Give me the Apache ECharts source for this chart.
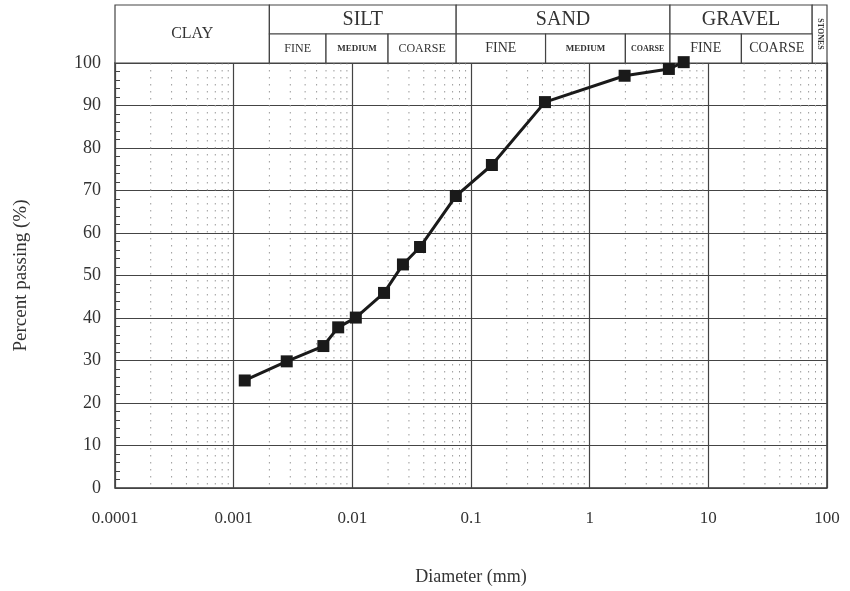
<!DOCTYPE html>
<html>
<head>
<meta charset="utf-8">
<script src="https://cdn.jsdelivr.net/npm/echarts@6/dist/echarts.min.js"></script>
<style>
  html, body { margin: 0; padding: 0; background: #fff; }
  #chart { width: 850px; height: 591px; }
</style>
</head>
<body>
<div id="chart"></div>
<script>
// grain size curve (diameter in mm, percent passing)
const diameters = [0.00124, 0.0028, 0.0057, 0.0076, 0.0107, 0.0185, 0.0267, 0.0372, 0.0745, 0.150, 0.42, 1.97, 4.65, 6.2]
const passing = [25.3, 29.8, 33.4, 37.8, 40.1, 45.9, 52.6, 56.7, 68.7, 76.0, 90.8, 97.0, 98.6, 100.2]

// soil classification header: [label, from, to]
const mainBands = [['CLAY', 0.0001, 0.002], ['SILT', 0.002, 0.075], ['SAND', 0.075, 4.75], ['GRAVEL', 4.75, 75], ['STONES', 75, 100]]
const subBands = [
  ['FINE', 0.002, 0.006], ['MEDIUM', 0.006, 0.02], ['COARSE', 0.02, 0.075],
  ['FINE', 0.075, 0.425], ['MEDIUM', 0.425, 2], ['COARSE', 2, 4.75],
  ['FINE', 4.75, 19], ['COARSE', 19, 75]
]

const xTicks = [0.0001, 0.001, 0.01, 0.1, 1, 10, 100]
const minorMultipliers = [2, 3, 4, 5, 6, 7, 8, 9]

const serif = '"Liberation Serif", "DejaVu Serif", serif'

// minor log lines: 2..9 of every decade
const minorLines = []
xTicks.slice(0, -1).forEach(d => {
  minorMultipliers.forEach(m => minorLines.push([d * m]))
})

// header cells: [from, to, rowBottom, rowTop]; clay and stones span both rows
const headerCells = []
const headerText = []
mainBands.forEach(b => {
  const full = b[0] === 'CLAY' || b[0] === 'STONES'
  headerCells.push([b[1], b[2], full ? 0 : 1, 2])
  headerText.push({ text: b[0], kind: full ? b[0].toLowerCase() : 'main' })
})
subBands.forEach(b => {
  headerCells.push([b[1], b[2], 0, 1])
  headerText.push({ text: b[0], kind: 'sub' })
})

function cellFont (info, width) {
  if (info.kind === 'main') return '20px ' + serif
  if (info.kind === 'clay') return '16px ' + serif
  if (info.kind === 'stones') return 'bold 8px ' + serif
  if (info.text === 'MEDIUM') return 'bold 9px ' + serif
  if (width < 50) return 'bold 8px ' + serif
  if (width > 70) return '14px ' + serif
  return '12px ' + serif
}

const chart = echarts.init(document.getElementById('chart'))

const option = {
  backgroundColor: '#fff',
  animation: false,
  grid: [
    { left: 115, right: 23, top: 63, bottom: 103, show: true, borderColor: '#333', borderWidth: 1.5 },
    { left: 115, right: 23, top: 5, height: 58 }
  ],
  xAxis: [
    {
      type: 'log',
      logBase: 10,
      min: 0.0001,
      max: 100,
      splitNumber: 6,
      gridIndex: 0,
      axisLine: { show: false },
      axisTick: { show: false },
      axisLabel: {
        margin: 22,
        fontFamily: serif,
        fontSize: 17,
        color: '#333',
        formatter: v => String(parseFloat(v.toPrecision(6)))
      },
      splitLine: { show: true, lineStyle: { color: '#444', width: 1.2 } },
      name: 'Diameter (mm)',
      nameLocation: 'middle',
      nameGap: 80,
      nameTextStyle: { fontFamily: serif, fontSize: 18, color: '#333' }
    },
    {
      type: 'log', logBase: 10, min: 0.0001, max: 100, gridIndex: 1, show: false
    }
  ],
  yAxis: [
    {
      type: 'value',
      min: 0,
      max: 100,
      interval: 10,
      gridIndex: 0,
      axisLine: { show: false },
      axisTick: { show: true, inside: true, length: 6, lineStyle: { color: '#444' } },
      minorTick: { show: true, splitNumber: 5, length: 5, lineStyle: { color: '#444' } },
      axisLabel: { margin: 14, fontFamily: serif, fontSize: 18, color: '#333' },
      splitLine: { show: true, lineStyle: { color: '#444', width: 1.2 } },
      name: 'Percent passing (%)',
      nameLocation: 'middle',
      nameGap: 84,
      nameTextStyle: { fontFamily: serif, fontSize: 19, color: '#333' }
    },
    { type: 'value', min: 0, max: 2, gridIndex: 1, show: false }
  ],
  series: [
    {
      // dotted minor lines of the log grid
      type: 'custom',
      xAxisIndex: 0,
      yAxisIndex: 0,
      data: minorLines,
      silent: true,
      z: 1,
      renderItem (params, api) {
        const top = api.coord([api.value(0), 100])
        const bottom = api.coord([api.value(0), 0])
        return {
          type: 'line',
          shape: { x1: top[0], y1: top[1], x2: bottom[0], y2: bottom[1] },
          style: { stroke: '#9a9a9a', lineWidth: 1, lineDash: [1.5, 5.5] }
        }
      }
    },
    {
      type: 'line',
      xAxisIndex: 0,
      yAxisIndex: 0,
      data: diameters.map((d, i) => [d, passing[i]]),
      symbol: 'rect',
      symbolSize: 12,
      clip: false,
      lineStyle: { color: '#1a1a1a', width: 3 },
      itemStyle: { color: '#1a1a1a' },
      z: 10
    },
    {
      type: 'custom',
      xAxisIndex: 1,
      yAxisIndex: 1,
      data: headerCells,
      silent: true,
      z: 2,
      renderItem (params, api) {
        const p0 = api.coord([api.value(0), api.value(2)])
        const p1 = api.coord([api.value(1), api.value(3)])
        const x = p0[0]
        const y = p1[1]
        const w = p1[0] - p0[0]
        const h = p0[1] - p1[1]
        const info = headerText[params.dataIndex]
        return {
          type: 'group',
          children: [
            {
              type: 'rect',
              shape: { x: x, y: y, width: w, height: h },
              style: { fill: '#fff', stroke: '#444', lineWidth: 1.2 }
            },
            {
              type: 'text',
              x: x + w / 2,
              y: y + h / 2,
              rotation: info.kind === 'stones' ? -Math.PI / 2 : 0,
              style: {
                text: info.text,
                font: cellFont(info, w),
                fill: '#333',
                align: 'center',
                verticalAlign: 'middle'
              }
            }
          ]
        }
      }
    }
  ]
}

chart.setOption(option)
</script>
</body>
</html>
